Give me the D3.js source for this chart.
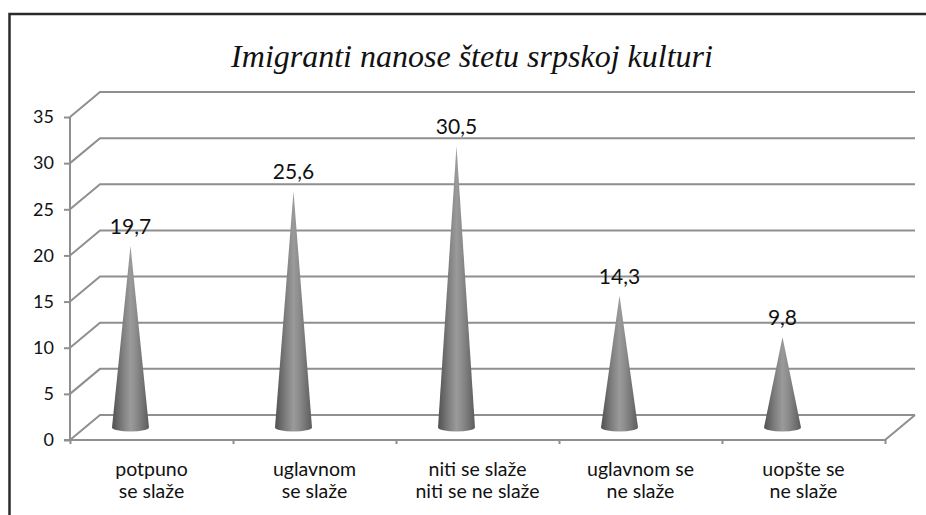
<!DOCTYPE html>
<html>
<head>
<meta charset="utf-8">
<script src="https://cdn.jsdelivr.net/npm/d3@7"></script>
<style>
  html, body { margin: 0; padding: 0; background: #fff; }
  svg { display: block; }
</style>
</head>
<body>
<svg id="chart" width="926" height="515"></svg>
<script>
// ---- data ----
const title = "Imigranti nanose štetu srpskoj kulturi";
const categories = [
  ["potpuno", "se slaže"],
  ["uglavnom", "se slaže"],
  ["niti se slaže", "niti se ne slaže"],
  ["uglavnom se", "ne slaže"],
  ["uopšte se", "ne slaže"]
];
const values = [19.7, 25.6, 30.5, 14.3, 9.8];
const valueLabels = ["19,7", "25,6", "30,5", "14,3", "9,8"];
const yTicks = [0, 5, 10, 15, 20, 25, 30, 35];

// ---- layout ----
const svg = d3.select("#chart");
const depthX = 30, depthY = 25;
const x0 = 70, x1 = 885;
const catKeys = categories.map((c, i) => i);
const x = d3.scaleBand().domain(catKeys).range([x0, x1]).padding(0);
const yF = d3.scaleLinear().domain([0, 35]).range([440, 117]);
const yMid = v => yF(v) - depthY / 2;
const coneOffset = -21;
const coneRx = 18.5, coneRy = 4;
const gridColor = "#8f8f8f";
const font = "Lato, 'Open Sans', sans-serif";

// frame
svg.append("path")
  .attr("d", "M9.5,520 L9.5,14 L930,14")
  .attr("fill", "none").attr("stroke", "#2a2a2a").attr("stroke-width", 2.5);

// title
svg.append("text")
  .attr("x", 472).attr("y", 67)
  .attr("text-anchor", "middle")
  .attr("font-family", "'Liberation Serif', 'DejaVu Serif', serif")
  .attr("font-style", "italic")
  .attr("font-size", 32)
  .attr("fill", "#111")
  .text(title);

// gridlines (side wall diagonal + back wall)
const grid = svg.append("g").attr("fill", "none").attr("stroke", gridColor).attr("stroke-width", 2);
yTicks.forEach(v => {
  const yy = yF(v);
  grid.append("path")
    .attr("d", `M${x0},${yy} L${x0 + depthX},${yy - depthY} L${x1 + depthX},${yy - depthY}`);
});
// floor right edge and front edge
grid.append("path")
  .attr("d", `M${x1 + depthX},${yF(0) - depthY} L${x1},${yF(0)} L${x0},${yF(0)}`);

// y axis
const yAxis = d3.axisLeft(yF).tickValues(yTicks).tickSize(6).tickPadding(10).tickFormat(d3.format("d"));
const gy = svg.append("g").attr("transform", `translate(${x0},0)`).call(yAxis);
gy.select(".domain").attr("stroke", gridColor).attr("stroke-width", 2).attr("d", `M-6,${yF(0)}H0V${yF(35)}`);
gy.selectAll(".tick line").attr("stroke", gridColor).attr("stroke-width", 2);
gy.selectAll(".tick text").attr("font-family", font).attr("font-size", 18).attr("fill", "#111");

// x axis ticks at band edges (front)
const xAxis = d3.axisBottom(d3.scaleLinear().domain([0, 5]).range([x0, x1]))
  .tickValues([0, 1, 2, 3, 4, 5]).tickSize(4).tickFormat("");
const gx = svg.append("g").attr("transform", `translate(0,${yF(0)})`).call(xAxis);
gx.select(".domain").remove();
gx.selectAll(".tick line").attr("stroke", gridColor).attr("stroke-width", 2);

// category labels
const catG = svg.append("g").attr("font-family", font).attr("font-size", 19.5).attr("fill", "#111").attr("text-anchor", "middle");
categories.forEach((c, i) => {
  c.forEach((line, j) => {
    catG.append("text")
      .attr("x", x(i) + x.bandwidth() / 2)
      .attr("y", 476 + j * 21.5)
      .text(line);
  });
});

// cone gradient
const defs = svg.append("defs");
const grad = defs.append("linearGradient").attr("id", "coneGrad").attr("x1", "0").attr("x2", "1").attr("y1", "0").attr("y2", "0");
[[0, "#505050"], [0.3, "#808080"], [0.5, "#9a9a9a"], [0.65, "#8c8c8c"], [1, "#5c5c5c"]].forEach(([o, c]) =>
  grad.append("stop").attr("offset", o).attr("stop-color", c));

// cones
const cones = svg.append("g");
values.forEach((v, i) => {
  const cx = x(i) + x.bandwidth() / 2 + coneOffset;
  const by = yMid(0);
  const ty = yMid(v);
  cones.append("path")
    .attr("d", `M${cx - coneRx},${by} L${cx},${ty} L${cx + coneRx},${by} A${coneRx},${coneRy} 0 0 1 ${cx - coneRx},${by} Z`)
    .attr("fill", "url(#coneGrad)");
  svg.append("text")
    .attr("x", cx).attr("y", ty - 12)
    .attr("text-anchor", "middle")
    .attr("font-family", font).attr("font-size", 21).attr("fill", "#111")
    .text(valueLabels[i]);
});
</script>
</body>
</html>
